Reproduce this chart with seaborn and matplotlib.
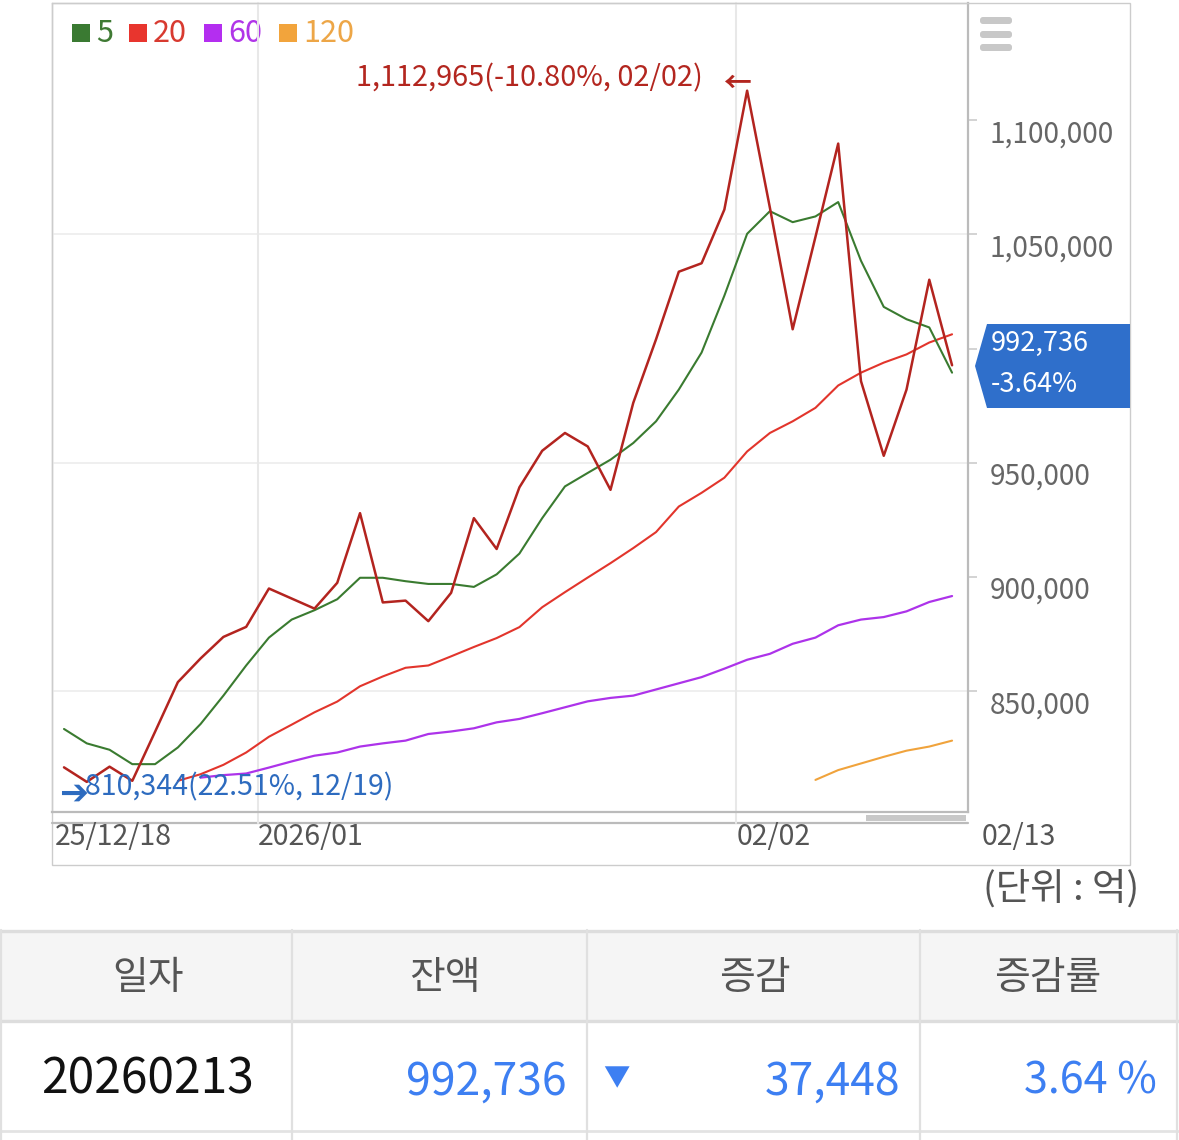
import matplotlib
matplotlib.use("Agg")
import matplotlib.pyplot as plt
from matplotlib.patches import Rectangle, Polygon, FancyBboxPatch
import pandas as pd
import seaborn as sns

W, H = 1179, 1140

dates = ["12/18", "12/19", "12/22", "12/23", "12/24", "12/26", "12/29", "12/30", "12/31",
         "01/02", "01/05", "01/06", "01/07", "01/08", "01/09", "01/12", "01/13", "01/14",
         "01/15", "01/16", "01/19", "01/20", "01/21", "01/22", "01/23", "01/26", "01/27",
         "01/28", "01/29", "01/30", "02/02", "02/03", "02/04", "02/05", "02/06", "02/09",
         "02/10", "02/11", "02/12", "02/13"]

balance = [816700, 810344, 817000, 810800, 832300, 854000, 864400, 873800, 878200, 895000,
           890600, 886200, 897500, 928000, 888900, 889700, 880700, 893100, 925800, 912300,
           939300, 955300, 963100, 957200, 938200, 976300, 1004100, 1033700, 1037400, 1060900,
           1112965, 1061700, 1008500, 1048900, 1089800, 985800, 953100, 982100, 1030184, 992736]

ma5 = [833500, 827200, 824400, 818100, 818100, 825400, 835700, 848100, 861300, 873500,
       881400, 885500, 890300, 899700, 899700, 898200, 897000, 897000, 895700, 901200,
       910300, 925800, 939700, 945600, 951400, 958700, 968200, 982100, 998300, 1023200,
       1050300, 1060200, 1055400, 1057900, 1064200, 1038500, 1018300, 1012900, 1009300, 989500]

ma20 = [None] * 5 + [810800, 813700, 817800, 823200, 830100, 835400, 840800, 845500, 852200,
                     856500, 860300, 861300, 865300, 869400, 873300, 878100, 886800, 893400,
                     899800, 906100, 912700, 919700, 930900, 936900, 943500, 955000, 963100,
                     968200, 974100, 983900, 989500, 993900, 997500, 1002700, 1006300]

ma60 = [None] * 6 + [812200, 813300, 814000, 816600, 819300, 821800, 823200, 825800, 827200,
                     828400, 831300, 832400, 833800, 836400, 837900, 840400, 843000, 845600,
                     847100, 848100, 850800, 853500, 856200, 859900, 863800, 866400, 870800,
                     873500, 878900, 881400, 882500, 885000, 889100, 891700]

ma120 = [None] * 33 + [811200, 815500, 818400, 821300, 824000, 825800, 828400]

legend_labels = ["5", "20", "60", "120"]
legend_colors = ["#3a7a32", "#e8352e", "#b42ef0", "#f2a43c"]
legend_text_colors = ["#3f7a34", "#d83a30", "#b035e8", "#eda647"]

y_ticks = [850000, 900000, 950000, 1000000, 1050000, 1100000]
y_labels = ["850,000", "900,000", "950,000", "", "1,050,000", "1,100,000"]
grid_levels = [850000, 950000, 1050000]

table_headers = ["일자", "잔액", "증감", "증감률"]
table_row = ["20260213", "992,736", "37,448", "3.64 %"]

sns.set_theme(style="white")
plt.rcParams["font.family"] = ["Noto Sans CJK KR", "DejaVu Sans"]

df = pd.DataFrame({"pos": range(len(dates)), "date": dates, "balance": balance,
                   "ma5": ma5, "ma20": ma20, "ma60": ma60, "ma120": ma120})

fig = plt.figure(figsize=(W / 100, H / 100), dpi=100)
fig.patch.set_facecolor("white")

# overlay in pixel coordinates for frame, tag, legend and table
ov = fig.add_axes([0, 0, 1, 1])
ov.set_xlim(0, W)
ov.set_ylim(H, 0)
ov.axis("off")

ax = fig.add_axes([52 / W, 1 - 812 / H, (968 - 52) / W, (812 - 3) / H])
ax.set_facecolor("none")

series = [("ma120", "#f0a33c", 1.5), ("ma60", "#ad33ea", 1.6), ("ma20", "#e2352c", 1.5),
          ("ma5", "#3a7b30", 1.5), ("balance", "#b3241f", 1.8)]
for col, color, lw in series:
    d = df[["pos", col]].dropna()
    sns.lineplot(data=d, x="pos", y=col, ax=ax, color=color, linewidth=lw, zorder=3)

ax.set_xlim(-0.527, 39.70)
ax.set_ylim(797150, 1151350)
ax.set_xlabel("")
ax.set_ylabel("")
ax.set_xticks([])

for lvl in grid_levels:
    ax.axhline(lvl, color="#eeeeee", lw=1.3, zorder=1)

month_starts = [i for i in range(1, len(dates)) if dates[i][:2] != dates[i - 1][:2]]
for i in month_starts:
    ax.axvline(i - 0.5, ymin=-11 / 809, ymax=1, color="#e8e8e8", lw=1.5, clip_on=False, zorder=1)

ax.yaxis.tick_right()
ax.set_yticks(y_ticks)
ax.set_yticklabels([])
ax.tick_params(axis="y", direction="out", length=6.5, width=1.2, color="#cccccc", right=True, left=False)
for v, lab in zip(y_ticks, y_labels):
    ax.annotate(lab, xy=(1, v), xycoords=("axes fraction", "data"), xytext=(22, -14),
                textcoords="offset pixels", ha="left", va="center", fontsize=20.2,
                color="#666666", annotation_clip=False)

for side in ["left", "top"]:
    ax.spines[side].set_color("#cccccc")
    ax.spines[side].set_linewidth(1)
for side in ["right", "bottom"]:
    ax.spines[side].set_color("#bbbbbb")
    ax.spines[side].set_linewidth(1.6)

# x labels
x_label_pos = [0, month_starts[0], month_starts[1], len(dates) - 1]
x_label_txt = ["25/12/18", "2026/01", dates[month_starts[1]], dates[-1]]
x_offsets = [-9, -11, -10, 30]
for p, t, off in zip(x_label_pos, x_label_txt, x_offsets):
    ax.annotate(t, xy=(p, 0), xycoords=("data", "axes fraction"), xytext=(off, -25),
                textcoords="offset pixels", ha="left", va="center", fontsize=20.5,
                color="#555555", annotation_clip=False)

# max / min annotations
imax = max(range(len(balance)), key=lambda i: balance[i])
imin = min(range(len(balance)), key=lambda i: balance[i])
last = balance[-1]
ax.annotate(f"{balance[imax]:,}({(last - balance[imax]) / balance[imax] * 100:.2f}%, {dates[imax]})",
            xy=(imax, balance[imax]), xytext=(-44, 12), textcoords="offset pixels",
            ha="right", va="center", fontsize=20.8, color="#b3261f")
ax.annotate("←", xy=(imax, balance[imax]), xytext=(-10, 7), textcoords="offset pixels",
            ha="center", va="center", fontsize=20, color="#b3261f", fontweight="bold")
ax.annotate("➔", xy=(imin, balance[imin]), xytext=(-13, -12), textcoords="offset pixels",
            ha="center", va="center", fontsize=25, color="#2d6bbf",
            family=["DejaVu Sans"], fontweight="bold")
ax.annotate(f"{balance[imin]:,}({(last - balance[imin]) / balance[imin] * 100:.2f}%, {dates[imin]})",
            xy=(imin, balance[imin]), xytext=(-2, -6), textcoords="offset pixels",
            ha="left", va="center", fontsize=20.5, color="#2d6bbf")

# outer frame and decorations
ov.add_patch(Rectangle((52, 3), 1130 - 52, 865 - 3, fill=False, ec="#cccccc", lw=1))
ov.plot([52, 968], [823, 823], color="#bbbbbb", lw=1.6)
ov.add_patch(Rectangle((866, 815), 100, 6, fc="#c8c8c8", ec="none"))
for yb in [17, 31, 44]:
    ov.add_patch(FancyBboxPatch((980, yb), 32, 7, boxstyle="round,pad=0,rounding_size=3",
                                fc="#c8c8c8", ec="none"))

# legend
legend_x = [72, 129, 204, 279]
for lx, lab, c, tc in zip(legend_x, legend_labels, legend_colors, legend_text_colors):
    ov.add_patch(Rectangle((lx, 24), 18, 18, fc=c, ec="none"))
    ov.text(lx + 24, 33, lab, color=tc, fontsize=22, ha="left", va="center")

# last value tag
change = (last - balance[-2]) / balance[-2] * 100
ov.add_patch(Polygon([(975, 366), (987, 324), (1130, 324), (1130, 408), (987, 408)],
                     closed=True, fc="#2f6fcb", ec="none"))
ov.text(991, 343, f"{last:,}", color="white", fontsize=19.5, ha="left", va="center")
ov.text(991, 385, f"{change:.2f}%", color="white", fontsize=19.5, ha="left", va="center")

ov.text(1139, 889, "(단위 : 억)", color="#555555", fontsize=27, ha="right", va="center")

# table
ov.add_patch(Rectangle((0, 930), W, 91, fc="#f5f5f5", ec="none"))
ov.plot([0, W], [931, 931], color="#dddddd", lw=2.4)
ov.plot([0, W], [1021, 1021], color="#dddddd", lw=2.4)
ov.plot([0, W], [1131, 1131], color="#e3e3e3", lw=2)
for xv in [1, 292, 587, 920, 1177]:
    ov.plot([xv, xv], [930, 1140], color="#e0e0e0", lw=1.6)

for cx, h in zip([148, 445, 755, 1048], table_headers):
    ov.text(cx, 978, h, color="#555555", fontsize=28, ha="center", va="center")

ov.text(147, 1080, table_row[0], color="#111111", fontsize=34.5, ha="center", va="center")
ov.text(566, 1082, table_row[1], color="#3d7ff2", fontsize=32, ha="right", va="center")
ov.text(616, 1079, "▼", color="#3d7ff2", fontsize=19, ha="center", va="center")
ov.text(900, 1082, table_row[2], color="#3d7ff2", fontsize=32, ha="right", va="center")
ov.text(1157, 1082, table_row[3], color="#3d7ff2", fontsize=31, ha="right", va="center")

fig.savefig("out.png", dpi=100)
